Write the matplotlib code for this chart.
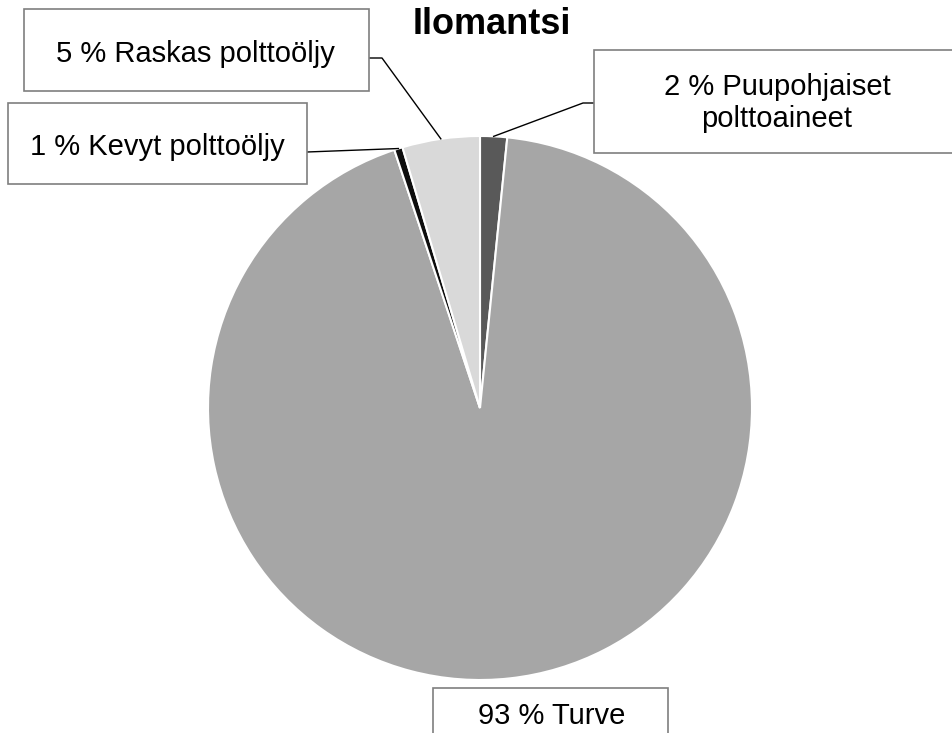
import numpy as np
import matplotlib
matplotlib.use("Agg")
import matplotlib.pyplot as plt
from matplotlib.patches import Rectangle

# Data (clockwise from 12 o'clock)
labels = ["Puupohjaiset\npolttoaineet", "Turve", "Kevyt polttoöljy", "Raskas polttoöljy"]
shares = [1.6, 93.3, 0.5, 4.6]
pct_text = ["2 %", "93 %", "1 %", "5 %"]
colors = ["#595959", "#a6a6a6", "#0d0d0d", "#d9d9d9"]

W, H = 952, 733
plt.rcParams["font.family"] = ["Liberation Sans", "DejaVu Sans"]

fig = plt.figure(figsize=(W / 100, H / 100), dpi=100)
ax = fig.add_axes([0, 0, 1, 1])


def py(y):
    # pixel row (top-down) -> axis y (bottom-up)
    return H - y


cx, cy, R = 480, py(408), 272
wedges, _ = ax.pie(shares, colors=colors, startangle=90, counterclock=False,
                   center=(cx, cy), radius=R, frame=True,
                   wedgeprops=dict(edgecolor="white", linewidth=1.5))
ax.set_xlim(0, W)
ax.set_ylim(0, H)
ax.axis("off")

ax.text(492, py(24), "Ilomantsi", ha="center", va="center",
        fontsize=26, fontweight="bold")

# label boxes: (x0, y_top, x1, y_bottom) in pixels, text centre, leader start points
boxes = [
    dict(rect=(594, 50, 960, 153), txt=(777, 103), lead=[(594, 103), (583, 103)]),
    dict(rect=(433, 688, 668, 760), txt=(552, 716), lead=None),
    dict(rect=(8, 103, 307, 184), txt=(157, 147), lead=[(307, 152)]),
    dict(rect=(24, 9, 369, 91), txt=(195, 54), lead=[(369, 58), (382, 58)]),
]

for w, lab, pct, b in zip(wedges, labels, pct_text, boxes):
    x0, yt, x1, yb = b["rect"]
    ax.add_patch(Rectangle((x0, py(yb)), x1 - x0, yb - yt, facecolor="white",
                           edgecolor="#7f7f7f", linewidth=1.2, zorder=3))
    ax.text(b["txt"][0], py(b["txt"][1]), f"{pct} {lab}", ha="center",
            va="center", fontsize=21, linespacing=1.16, zorder=4)
    if b["lead"]:
        mid = np.deg2rad((w.theta1 + w.theta2) / 2)
        ex, ey = cx + R * np.cos(mid), cy + R * np.sin(mid)
        xs = [p[0] for p in b["lead"]] + [ex]
        ys = [py(p[1]) for p in b["lead"]] + [ey]
        ax.plot(xs, ys, color="black", linewidth=1, zorder=2)

fig.savefig("out.png", dpi=100)
